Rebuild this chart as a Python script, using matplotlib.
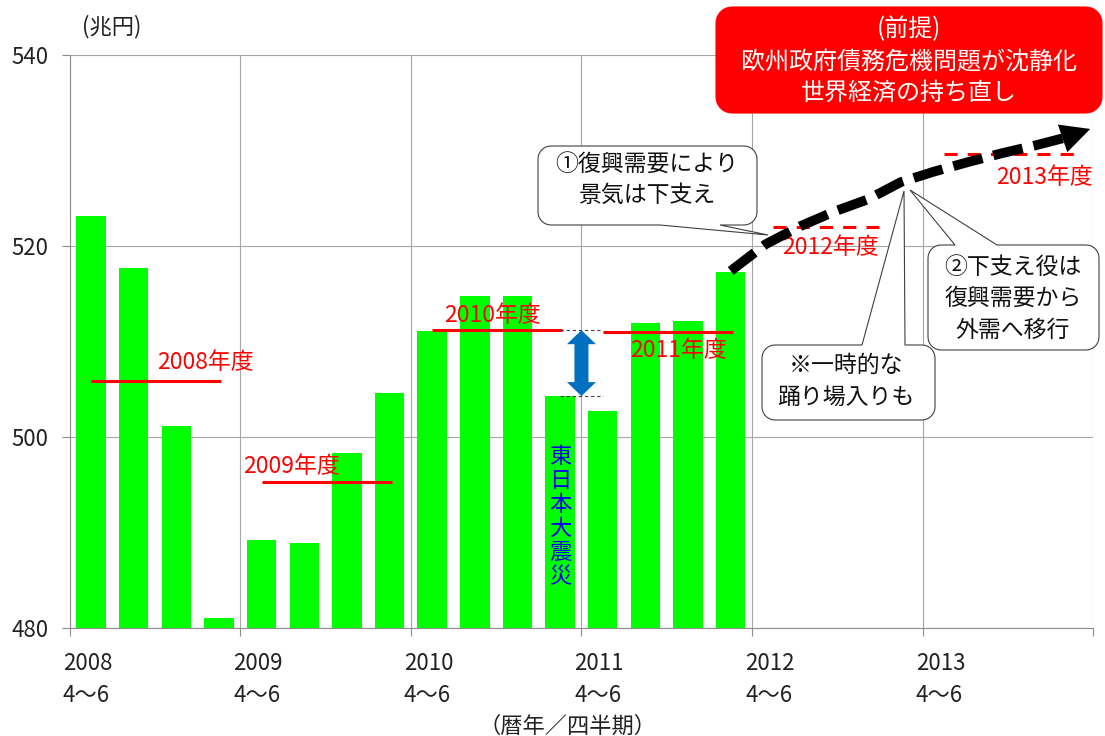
import numpy as np
import matplotlib
matplotlib.use('Agg')
import matplotlib.pyplot as plt
import matplotlib.transforms as mtransforms
from matplotlib.patches import Polygon

plt.rcParams['font.family'] = ['Noto Sans CJK JP', 'DejaVu Sans']

# 実質GDP(兆円)  2008年4～6月期 ～ 2012年1～3月期
gdp = [523.2, 517.7, 501.2, 481.1, 489.2, 488.9, 498.3, 504.6,
       511.1, 514.8, 514.8, 504.3, 502.7, 512.0, 512.2, 517.3]
# 年度平均
fy_names = ['2008年度', '2009年度', '2010年度', '2011年度']
fy_avg = [505.9, 495.3, 511.2, 511.0]
# 見通し(年度)
fc_names = ['2012年度', '2013年度']
fc_avg = [522.0, 529.6]
# x軸
year_labels = ['2008', '2009', '2010', '2011', '2012', '2013']
quarter_label = '4～6'
# 見通しの矢印 (四半期, 兆円)
path_q = [15.5, 16.32, 17.14, 17.92, 18.72, 19.49, 20.27, 21.07, 21.84, 22.61, 23.3]
path_v = [517.4, 520.2, 522.1, 523.6, 524.9, 526.7, 527.8, 528.8, 529.7, 530.5, 531.3]
arrow_tip = (23.93, 532.26)
quake_idx = 11  # 2011年1～3月期

W, H = 1105, 736
fig = plt.figure(figsize=(W / 100, H / 100), dpi=100)
fig.patch.set_facecolor('white')
ax = fig.add_axes([69.7 / W, 1 - 628.3 / H, 1023.5 / W, 573.3 / H])
# 画像ピクセル座標(左上原点)
pix = mtransforms.Affine2D().scale(1.0 / W, -1.0 / H).translate(0, 1) + fig.transFigure
dq = 24 / 1023.5   # 1px あたりの四半期
dv = 60 / 573.3    # 1px あたりの兆円

x = np.arange(len(gdp)) + 0.5
ax.bar(x, gdp, width=0.69, color='#00ff00', zorder=2)

ax.set_xlim(0, 24)
ax.set_ylim(480, 540)
ax.set_xticks(range(0, 25, 4))
ax.set_xticklabels([])
ax.set_yticks([480, 500, 520, 540])
ax.set_axisbelow(True)
ax.grid(True, color='#a6a6a6', lw=0.8)
for s in ['top', 'right']:
    ax.spines[s].set_visible(False)
for s in ['left', 'bottom']:
    ax.spines[s].set_color('#8c8c8c')
    ax.spines[s].set_linewidth(0.8)
ax.tick_params(length=5.8, width=0.8, color='#8c8c8c', labelsize=16, pad=9.6, labelcolor='#222222')

# x軸ラベル
xt = mtransforms.offset_copy(mtransforms.blended_transform_factory(ax.transData, pix),
                             fig=fig, x=-7, y=0, units='dots')
for i, yl in enumerate(year_labels):
    ax.text(4 * i, 663, yl, transform=xt, ha='left', va='center', fontsize=16, color='#222222')
    ax.text(4 * i, 695, quarter_label, transform=xt, ha='left', va='center', fontsize=16, color='#222222')
ax.text(567, 726, '（暦年／四半期）', transform=pix, ha='center', va='center', fontsize=16, color='#222222')
ax.text(112, 27, '(兆円)', transform=pix, ha='center', va='center', fontsize=16, color='#222222')

# 年度平均の線
fy_label_pos = [(2.05, 507.85), (4.07, 496.95), (8.77, 512.7), (13.15, 509.1)]
for i in range(len(fy_avg)):
    ax.plot([4 * i + 0.5, 4 * i + 3.55], [fy_avg[i]] * 2, color='#ff0000', lw=2.2,
            solid_capstyle='butt', zorder=4)
    ax.text(fy_label_pos[i][0], fy_label_pos[i][1], fy_names[i], color='#ff0000',
            fontsize=16.5, ha='left', va='center', zorder=4)

fc_label_pos = [(16.71, 519.85), (21.72, 527.2)]
for i in range(len(fc_avg)):
    s = 16 + 4 * i
    ax.plot([s + 0.5, s + 3.1 + 0.45 * i], [fc_avg[i]] * 2, color='#ff0000', lw=2.2,
            dashes=(4.3, 3.3), zorder=4)
    ax.text(fc_label_pos[i][0], fc_label_pos[i][1], fc_names[i], color='#ff0000',
            fontsize=16.5, ha='left', va='center', zorder=4)

# 震災による落ち込み
top = fy_avg[2]
bot = gdp[quake_idx]
ax.plot([11.5, 12.5], [top, top], color='#404040', lw=0.8, dashes=(3, 2.5), zorder=4)
ax.plot([11.5, 12.5], [bot, bot], color='#404040', lw=0.8, dashes=(3, 2.5), zorder=4)
q0 = 12.0
hw, sw, hl = 14.5 * dq, 7 * dq, 14 * dv
arr = [(q0, top), (q0 + hw, top - hl), (q0 + sw, top - hl), (q0 + sw, bot + hl),
       (q0 + hw, bot + hl), (q0, bot), (q0 - hw, bot + hl), (q0 - sw, bot + hl),
       (q0 - sw, top - hl), (q0 - hw, top - hl)]
ax.add_patch(Polygon(arr, closed=True, facecolor='#0070c0', edgecolor='none', zorder=5))
for k, ch in enumerate('東日本大震災'):
    ax.text(x[quake_idx], 498.0 - k * 24 * dv, ch, color='#0000ee', fontsize=16,
            ha='center', va='center', zorder=5)


def box_verts(x0, y0, x1, y1, r, side=None, b1=0, b2=0, tip=None):
    t = np.linspace(0, np.pi / 2, 8)
    v = [(x0 + r, y0)]
    if side == 'top':
        v += [(b1, y0), tip, (b2, y0)]
    v += [(x1 - r, y0)]
    v += [(x1 - r + r * np.sin(a), y0 + r - r * np.cos(a)) for a in t]
    v += [(x1, y1 - r)]
    v += [(x1 - r + r * np.cos(a), y1 - r + r * np.sin(a)) for a in t]
    if side == 'bottom':
        v += [(b2, y1), tip, (b1, y1)]
    v += [(x0 + r, y1)]
    v += [(x0 + r - r * np.sin(a), y1 - r + r * np.cos(a)) for a in t]
    v += [(x0, y0 + r)]
    v += [(x0 + r - r * np.cos(a), y0 + r - r * np.sin(a)) for a in t]
    return v


def callout(rect, side, b1, b2, tip, lines, ys, cx):
    poly = Polygon(box_verts(*rect, 13, side, b1, b2, tip), closed=True, transform=pix,
                   facecolor='white', edgecolor='#404040', lw=0.8, zorder=6, clip_on=False)
    ax.add_patch(poly)
    for ln, yy in zip(lines, ys):
        ax.text(cx, yy, ln, transform=pix, ha='center', va='center', fontsize=16.5,
                color='#111111', zorder=7)


callout((538, 146, 757, 225), 'bottom', 660, 720, (768, 235),
        ['①復興需要により', '景気は下支え'], [165, 195], 647)
callout((762, 345, 935, 420), 'top', 862, 905, (904, 191),
        ['※一時的な', '踊り場入りも'], [365, 397], 846)
callout((928, 245, 1099, 350), 'top', 955, 997, (910, 190),
        ['②下支え役は', '復興需要から', '外需へ移行'], [267, 298, 330], 1013)

# 前提(赤い箱)
ax.add_patch(Polygon(box_verts(716, 7, 1102, 113, 16), closed=True, transform=pix,
                     facecolor='#ff0000', edgecolor='#ff0000', lw=0.8, zorder=6, clip_on=False))
for ln, yy in zip(['(前提)', '欧州政府債務危機問題が沈静化', '世界経済の持ち直し'], [29, 62, 93]):
    ax.text(909, yy, ln, transform=pix, ha='center', va='center', fontsize=17.3,
            color='white', zorder=7)

# 見通しの矢印
ax.plot(path_q, path_v, color='k', lw=7, dashes=(3.1, 1.15), dash_capstyle='butt',
        zorder=8, clip_on=False)
ax.annotate('', xy=arrow_tip, xytext=(path_q[-1], path_v[-1]),
            arrowprops=dict(arrowstyle='-|>,head_length=1.4,head_width=0.7', mutation_scale=15,
                            color='k', lw=0, shrinkA=0, shrinkB=0),
            annotation_clip=False, zorder=9)

fig.savefig('out.png', dpi=100)
